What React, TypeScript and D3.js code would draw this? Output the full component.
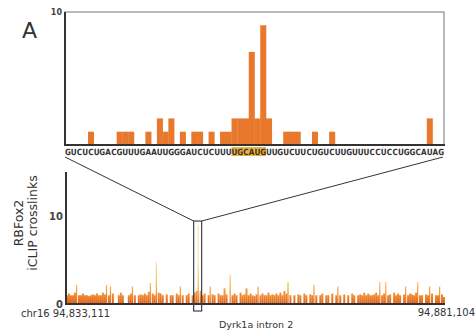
import React, { useRef, useEffect } from "react";
import * as d3 from "d3";

// top panel: crosslinks per nucleotide of the zoomed window
const sequence =
  "GUCUCUGACGUUUGAAUUGGGAUCUCUUU" + "UGCAUG" + "UUGUCUUCUGUCUUGUUUCCUCCUGGCAUAG";
const motifStart = 29;
const motifLen = 6;
const zoomCounts = [
  0, 0, 0, 0, 1, 0, 0, 0, 0, 1,
  1, 1, 0, 0, 1, 0, 2, 1, 2, 0,
  1, 0, 1, 1, 0, 1, 0, 1, 1, 2,
  2, 2, 7, 2, 9, 2, 0, 0, 1, 1,
  1, 0, 0, 1, 0, 0, 1, 0, 0, 0,
  0, 0, 0, 0, 0, 0, 0, 0, 0, 0,
  0, 0, 0, 2, 0, 0,
];

// bottom panel: crosslinks along the whole intron (binned)
const intronCounts = [
  1, 1.2, 1, 1, 1.3, 2.2, 1, 1, 1.2, 1,
  1, 0.9, 1, 1.1, 1, 1.2, 1, 1, 1.3, 1.1,
  2.2, 1, 2, 1.2, 0, 0, 1, 1.3, 1, 0,
  0, 1, 1.2, 2, 1, 0, 1, 1.1, 1, 1.2,
  1, 1.4, 2.4, 1.2, 1, 4.8, 1.3, 1.2, 1, 0,
  1.1, 0, 1, 1, 0, 1.2, 1, 2, 1, 0,
  1, 1.2, 0, 1, 1.3, 1.5, 9, 1.5, 1, 1.2,
  0, 1, 2, 1.1, 1, 0, 1.2, 1, 1, 1.8,
  1.1, 0, 3.3, 1, 1.2, 1, 0, 1.3, 1, 1.1,
  1.8, 1, 1.2, 1, 0.9, 1.1, 2, 1, 1.2, 1,
  1, 1.3, 1, 1.1, 1, 1.2, 1, 1.3, 1, 1.5,
  1.2, 2.5, 1, 0, 1, 0, 1.1, 1, 0, 1.2,
  1, 0, 1.1, 1, 2.2, 1, 0, 1, 1.2, 0,
  1, 1, 0, 1.2, 0, 1, 2, 1, 0, 1.1,
  0, 1, 0, 1.2, 1, 0, 1, 1.1, 1, 1.3,
  1, 1.2, 1, 1, 1.1, 1.3, 1, 2.5, 1, 1.2,
  2.5, 1, 1.1, 0, 1.3, 1, 1.2, 1, 0, 1.1,
  2, 1, 1.2, 1.1, 1, 1.3, 2.5, 1, 1, 0,
  1.1, 1, 2, 1.2, 0, 1, 1, 2, 1.1, 0.8,
];
const zoomBin = 66;
const startLabel = "chr16 94,833,111";
const endLabel = "94,881,104";
const geneLabel = "Dyrk1a intron 2";

const W = 476;
const H = 335;
const FONT = "'DejaVu Sans', Verdana, sans-serif";

export default function App() {
  const ref = useRef<SVGSVGElement>(null);

  useEffect(() => {
    const svg = d3.select(ref.current);
    svg.selectAll("*").remove();

    // ---------- top panel ----------
    const x1 = d3
      .scaleBand<number>()
      .domain(d3.range(sequence.length))
      .range([65, 444]);
    const y1 = d3.scaleLinear().domain([0, 10]).range([145, 12]);

    const top = svg.append("g");
    top
      .append("rect")
      .attr("x", 65)
      .attr("y", y1(10))
      .attr("width", 379)
      .attr("height", y1(0) - y1(10))
      .attr("fill", "none")
      .attr("stroke", "#777")
      .attr("stroke-width", 1);

    top
      .selectAll("rect.bar")
      .data(zoomCounts.map((v, i) => ({ v, i })).filter((d) => d.v > 0))
      .enter()
      .append("rect")
      .attr("class", "bar")
      .attr("x", (d) => x1(d.i)!)
      .attr("width", x1.bandwidth() + 0.3)
      .attr("y", (d) => y1(d.v))
      .attr("height", (d) => y1(0) - y1(d.v))
      .attr("fill", "#e8792c");

    top
      .append("line")
      .attr("x1", 65).attr("x2", 65)
      .attr("y1", y1(10)).attr("y2", y1(0))
      .attr("stroke", "#333").attr("stroke-width", 2);
    top
      .append("line")
      .attr("x1", 64).attr("x2", 445)
      .attr("y1", y1(0)).attr("y2", y1(0))
      .attr("stroke", "#333").attr("stroke-width", 2);

    top
      .append("text")
      .attr("x", 62)
      .attr("y", y1(10) + 3)
      .attr("text-anchor", "end")
      .attr("font-size", 8)
      .attr("font-weight", "bold")
      .attr("font-family", FONT)
      .attr("fill", "#444")
      .text("10");

    // motif highlight + sequence, one letter per nucleotide band
    top
      .append("rect")
      .attr("x", x1(motifStart)!)
      .attr("width", x1.bandwidth() * motifLen)
      .attr("y", y1(0) + 2)
      .attr("height", 9)
      .attr("fill", "#f2b33c");
    top
      .selectAll("text.nt")
      .data(sequence.split("").map((c, i) => ({ c, i })))
      .enter()
      .append("text")
      .attr("class", "nt")
      .attr("x", (d) => x1(d.i)! + x1.bandwidth() / 2)
      .attr("y", y1(0) + 10)
      .attr("text-anchor", "middle")
      .attr("font-size", 8.5)
      .attr("font-weight", "bold")
      .attr("font-family", FONT)
      .attr("fill", "#333")
      .attr("transform", (d) => {
        const cx = x1(d.i)! + x1.bandwidth() / 2;
        return `translate(${cx},0) scale(0.85,1) translate(${-cx},0)`;
      })
      .text((d) => d.c);

    top
      .append("text")
      .attr("x", 22)
      .attr("y", 38)
      .attr("font-size", 22)
      .attr("font-family", FONT)
      .attr("fill", "#333")
      .text("A");

    // ---------- bottom panel ----------
    const x2 = d3
      .scaleBand<number>()
      .domain(d3.range(intronCounts.length))
      .range([66, 445]);
    const y2 = d3.scaleLinear().domain([0, 15]).range([304, 173]);

    const defs = svg.append("defs");
    const grad = defs
      .append("linearGradient")
      .attr("id", "heat")
      .attr("gradientUnits", "userSpaceOnUse")
      .attr("x1", 0).attr("x2", 0)
      .attr("y1", y2(0)).attr("y2", y2(5));
    grad.append("stop").attr("offset", 0).attr("stop-color", "#e0601c");
    grad.append("stop").attr("offset", 0.2).attr("stop-color", "#ef8a2e");
    grad.append("stop").attr("offset", 0.45).attr("stop-color", "#f6bb4c");
    grad.append("stop").attr("offset", 1).attr("stop-color", "#fbe7a4");

    const bot = svg.append("g");
    bot
      .selectAll("rect.bar")
      .data(intronCounts.map((v, i) => ({ v, i })).filter((d) => d.v > 0))
      .enter()
      .append("rect")
      .attr("class", "bar")
      .attr("x", (d) => x2(d.i)!)
      .attr("width", (d) => (d.v > 1.9 ? 1.2 : x2.bandwidth()))
      .attr("y", (d) => y2(d.v))
      .attr("height", (d) => y2(0) - y2(d.v))
      .attr("fill", "url(#heat)");

    bot
      .append("line")
      .attr("x1", 66).attr("x2", 66)
      .attr("y1", 172).attr("y2", y2(0))
      .attr("stroke", "#333").attr("stroke-width", 2);
    bot
      .append("line")
      .attr("x1", 65).attr("x2", 445)
      .attr("y1", y2(0)).attr("y2", y2(0))
      .attr("stroke", "#333").attr("stroke-width", 2);

    [0, 10].forEach((t) => {
      bot
        .append("text")
        .attr("x", 63)
        .attr("y", y2(t) + 3.5)
        .attr("text-anchor", "end")
        .attr("font-size", 10)
        .attr("font-weight", "bold")
        .attr("font-family", FONT)
        .attr("fill", "#444")
        .text(String(t));
    });

    const yl = bot.append("text")
      .attr("transform", `translate(23,${y2(0) - 81}) rotate(-90)`)
      .attr("text-anchor", "middle")
      .attr("font-size", 12.5)
      .attr("font-family", FONT)
      .attr("fill", "#333");
    yl.append("tspan").attr("x", 0).attr("dy", 0).text("RBFox2");
    yl.append("tspan").attr("x", 0).attr("dy", 14).text("iCLIP crosslinks");

    bot
      .append("text")
      .attr("x", 21)
      .attr("y", 317)
      .attr("font-size", 10)
      .attr("font-family", FONT)
      .attr("fill", "#333")
      .text(startLabel);
    bot
      .append("text")
      .attr("x", 475)
      .attr("y", 316)
      .attr("text-anchor", "end")
      .attr("font-size", 10)
      .attr("font-family", FONT)
      .attr("fill", "#333")
      .text(endLabel);
    bot
      .append("text")
      .attr("x", 219)
      .attr("y", 328)
      .attr("font-size", 9.5)
      .attr("font-family", FONT)
      .attr("fill", "#333")
      .text(geneLabel);

    // zoom box + connectors
    const bx0 = x2(zoomBin)! - 4;
    const bx1 = x2(zoomBin)! + x2.bandwidth() + 2;
    const by0 = y2(9.5);
    const by1 = y2(0) + 7;
    bot
      .append("rect")
      .attr("x", bx0)
      .attr("y", by0)
      .attr("width", bx1 - bx0)
      .attr("height", by1 - by0)
      .attr("fill", "none")
      .attr("stroke", "#3a4250")
      .attr("stroke-width", 1.2);
    bot
      .append("line")
      .attr("x1", 65).attr("y1", y1(0) + 12)
      .attr("x2", bx0).attr("y2", by0)
      .attr("stroke", "#333").attr("stroke-width", 1);
    bot
      .append("line")
      .attr("x1", 443).attr("y1", y1(0) + 12)
      .attr("x2", bx1).attr("y2", by0)
      .attr("stroke", "#333").attr("stroke-width", 1);
  }, []);

  return (
    <svg
      ref={ref}
      width={W}
      height={H}
      style={{ position: "absolute", left: 0, top: 0, background: "#fff" }}
    ></svg>
  );
}
